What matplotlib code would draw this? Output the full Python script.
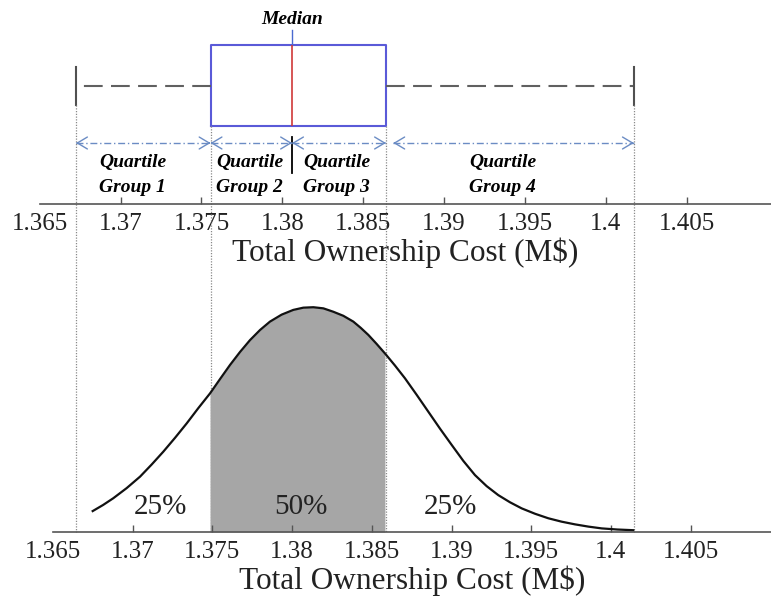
import matplotlib
matplotlib.use('Agg')
import matplotlib.pyplot as plt
import matplotlib.transforms as mtransforms

plt.rcParams['font.family'] = ['Liberation Serif', 'DejaVu Serif']

# Five-number summary of the total ownership cost (M$)
whisker_lo = 1.36724
quartile_1 = 1.37556
median = 1.3806
quartile_3 = 1.38641
whisker_hi = 1.40174

tick_values = [1.365, 1.37, 1.375, 1.38, 1.385, 1.39, 1.395, 1.4, 1.405]
tick_labels = ['1.365', '1.37', '1.375', '1.38', '1.385', '1.39', '1.395', '1.4', '1.405']

group_names = ['Quartile\nGroup 1', 'Quartile\nGroup 2', 'Quartile\nGroup 3', 'Quartile\nGroup 4']
group_spans = [(1.36724, 1.37556), (1.37556, 1.3806), (1.3806, 1.38641), (1.38686, 1.40174)]
group_label_x = [1.37076, 1.378, 1.38338, 1.39361]

# Distribution of the cost (relative density)
cost = [1.36749, 1.36814, 1.36878, 1.36962, 1.37046, 1.37119, 1.37192, 1.37266,
        1.37339, 1.37412, 1.37485, 1.37548, 1.37610, 1.37673, 1.37736, 1.37799,
        1.37861, 1.37934, 1.38007, 1.38070, 1.38133, 1.38196, 1.38258, 1.38321,
        1.38384, 1.38431, 1.38478, 1.38530, 1.38582, 1.38645, 1.38708, 1.38781,
        1.38854, 1.38928, 1.39001, 1.39074, 1.39147, 1.39220, 1.39293, 1.39367,
        1.39440, 1.39524, 1.39607, 1.39690, 1.39774, 1.39858, 1.39942, 1.40041,
        1.40140]
density = [0.093, 0.120, 0.150, 0.195, 0.246, 0.300, 0.357, 0.419,
           0.483, 0.551, 0.616, 0.680, 0.742, 0.800, 0.853, 0.898,
           0.935, 0.966, 0.987, 0.997, 0.999, 0.994, 0.979, 0.961,
           0.935, 0.907, 0.876, 0.836, 0.794, 0.740, 0.683, 0.610,
           0.535, 0.459, 0.387, 0.316, 0.253, 0.204, 0.164, 0.132,
           0.105, 0.081, 0.061, 0.046, 0.034, 0.024, 0.016, 0.011,
           0.008]
shade_lo = 1.37485
shade_hi = 1.38582

share_labels = ['25%', '50%', '25%']
share_x = [1.37171, 1.38056, 1.3899]

W, H = 771, 598
fig = plt.figure(figsize=(W / 100, H / 100), dpi=100)

# axes placed in pixel units of the canvas
ax1 = fig.add_axes([39.8 / W, 1 - 204 / H, (W - 39.8) / W, 204 / H])
ax2 = fig.add_axes([53 / W, 1 - 532 / H, (W - 53) / W, 242 / H])
ax1.set_xlim(1.365, 1.41022)
ax2.set_xlim(1.365, 1.41004)

for ax in (ax1, ax2):
    for s in ('top', 'left', 'right'):
        ax.spines[s].set_visible(False)
    ax.spines['bottom'].set_color('#555555')
    ax.spines['bottom'].set_linewidth(1.2)
    ax.set_yticks([])
    ax.set_xticks(tick_values)
    ax.set_xticklabels(tick_labels)
    ax.tick_params(axis='x', direction='in', length=5, width=1, color='#555555',
                   labelsize=18, pad=6.5, labelcolor='#222222')
    ax.xaxis.get_major_ticks()[0].tick1line.set_visible(False)
    ax.set_xlabel('Total Ownership Cost (M$)', fontsize=22.5, color='#222222', labelpad=1.5)
    ax.patch.set_visible(False)

# ---- box plot panel ----
ax1.set_ylim(0, 204)
box_color = '#5a5ad8'
stats = [dict(whislo=whisker_lo, q1=quartile_1, med=median, q3=quartile_3,
              whishi=whisker_hi, fliers=[])]
ax1.bxp(stats, positions=[118.5], widths=[81], orientation='horizontal',
        showfliers=False, capwidths=[38], manage_ticks=False,
        boxprops=dict(color=box_color, linewidth=1.5),
        whiskerprops=dict(color='#606060', linewidth=1.5, linestyle=(0, (9, 4))),
        capprops=dict(color='#505050', linewidth=1.5),
        medianprops=dict(color='#d03838', linewidth=1.2))
ax1.plot([median, median], [159, 174], color='#4a6ad0', linewidth=1)
ax1.plot([median, median], [31, 67], color='black', linewidth=1.3)
ax1.text(median, 184, 'Median', ha='center', va='center', fontsize=14,
         fontweight='bold', fontstyle='italic')

arrow_color = '#6b8cc4'
arrow_y = 61
head = dict(arrowstyle='->,head_length=0.72,head_width=0.43', color=arrow_color,
            lw=1, shrinkA=0, shrinkB=0, mutation_scale=10)
for (a, b) in group_spans:
    ax1.plot([a, b], [arrow_y, arrow_y], color=arrow_color, linewidth=1,
             linestyle=(0, (5, 2, 1, 2)))
    ax1.annotate('', xy=(a, arrow_y), xytext=(a + 0.0001, arrow_y), arrowprops=head)
    ax1.annotate('', xy=(b, arrow_y), xytext=(b - 0.0001, arrow_y), arrowprops=head)

for name, x in zip(group_names, group_label_x):
    ax1.text(x, 29, name, ha='center', va='center', multialignment='left',
             fontsize=14, fontweight='bold', fontstyle='italic', linespacing=1.6)

# ---- density panel ----
ax2.set_ylim(0, 242 / 225)
ax2.fill_between(cost, density, where=[shade_lo <= c <= shade_hi for c in cost],
                 color='#a6a6a6', linewidth=0)
ax2.plot(cost, density, color='#111111', linewidth=1.6, solid_joinstyle='round')
for lab, x in zip(share_labels, share_x):
    ax2.text(x, 0.111, lab, ha='center', va='center', fontsize=21, color='#222222')

# dotted guides running from the box plot down to the density axis
guide = mtransforms.blended_transform_factory(ax1.transData, fig.transFigure)
guide_x = [whisker_lo, quartile_1, quartile_3, whisker_hi]
guide_top = [105, 126, 126, 105]
for x, top in zip(guide_x, guide_top):
    ax1.plot([x, x], [1 - top / H, 1 - 532 / H], transform=guide, clip_on=False,
             color='#8a8a8a', linewidth=0.9, linestyle=(0, (1, 1.2)))

ax1.set_xlim(1.365, 1.41022)
ax1.set_ylim(0, 204)

fig.savefig('out.png', dpi=100)
